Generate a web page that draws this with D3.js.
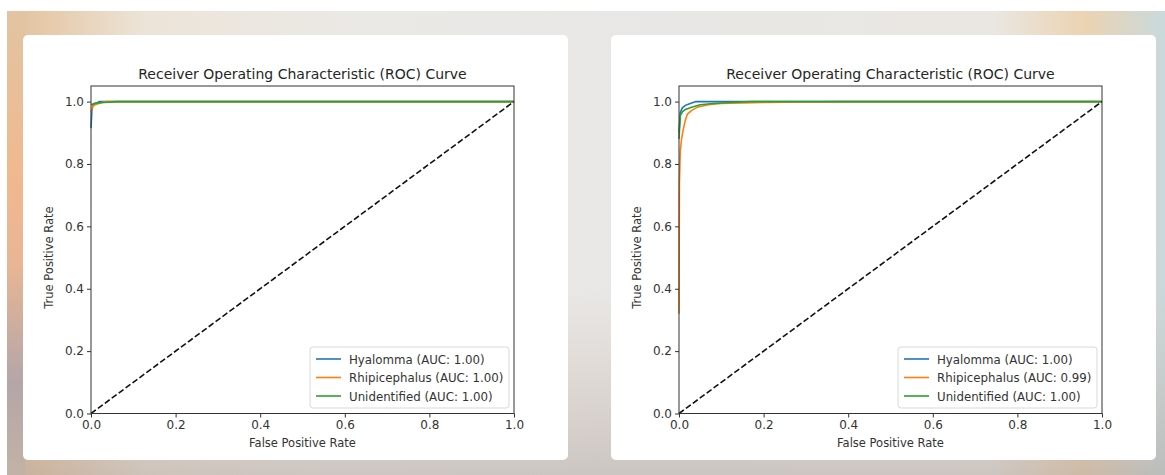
<!DOCTYPE html>
<html>
<head>
<meta charset="utf-8">
<script src="https://cdn.jsdelivr.net/npm/d3@7"></script>
<style>
  html, body { margin: 0; padding: 0; background: #fff; }
  svg { display: block; font-family: "DejaVu Sans", sans-serif; }
</style>
</head>
<body>
<svg id="chart" width="1165" height="475"></svg>
<script>
// series names and AUC labels
const classNames = ["Hyalomma", "Rhipicephalus", "Unidentified"];
const aucLeft = ["1.00", "1.00", "1.00"];
const aucRight = ["1.00", "0.99", "1.00"];
const tickValues = [0, 0.2, 0.4, 0.6, 0.8, 1.0];

// left panel ROC points [fpr, tpr]
const leftHyalomma = [[0, 0.915], [0.002, 0.97], [0.005, 0.99], [0.012, 0.995], [0.02, 1.0], [1, 1]];
const leftRhipicephalus = [[0, 0.965], [0.004, 0.985], [0.01, 0.99], [0.02, 0.995], [0.035, 1.0], [1, 1]];
const leftUnidentified = [[0, 0.99], [0.01, 0.995], [0.03, 0.997], [0.06, 1.0], [1, 1]];

// right panel ROC points [fpr, tpr]
const rightHyalomma = [[0, 0.9], [0.003, 0.965], [0.008, 0.98], [0.015, 0.988], [0.025, 0.993], [0.04, 1.0], [1, 1]];
const rightRhipicephalus = [[0, 0.32], [0.001, 0.74], [0.003, 0.84], [0.006, 0.88], [0.01, 0.91], [0.015, 0.94], [0.02, 0.96], [0.03, 0.972], [0.045, 0.983], [0.07, 0.99], [0.1, 0.994], [0.2, 0.997], [0.38, 1.0], [1, 1]];
const rightUnidentified = [[0, 0.88], [0.003, 0.955], [0.008, 0.967], [0.015, 0.975], [0.03, 0.982], [0.05, 0.99], [0.08, 0.994], [0.12, 0.997], [0.17, 1.0], [1, 1]];

const colors = ["#1f77b4", "#ff7f0e", "#2ca02c"];

const svg = d3.select("#chart");
const defs = svg.append("defs");

// blurry background behind the cards
let bg = defs.append("linearGradient").attr("id", "bg").attr("x1", 0).attr("x2", 1).attr("y1", 0).attr("y2", 0);
[["0%", "#dcc0a0"], ["3%", "#e6c9a8"], ["12%", "#ece4d8"], ["30%", "#ebe9e6"], ["55%", "#e8e7e5"], ["85%", "#eae7e2"], ["93%", "#ecd3b2"], ["100%", "#c9d9dc"]]
  .forEach(s => bg.append("stop").attr("offset", s[0]).attr("stop-color", s[1]));
let bgv = defs.append("linearGradient").attr("id", "bgv").attr("x1", 0).attr("x2", 0).attr("y1", 0).attr("y2", 1);
[["0%", "#ffffff", 0], ["60%", "#c8a898", 0.0], ["100%", "#a89c98", 0.45]]
  .forEach(s => bgv.append("stop").attr("offset", s[0]).attr("stop-color", s[1]).attr("stop-opacity", s[2]));
let edge = defs.append("linearGradient").attr("id", "edge").attr("x1", 0).attr("x2", 0).attr("y1", 0).attr("y2", 1);
[["0%", "#e2c4a2"], ["35%", "#f0b98e"], ["55%", "#e8b595"], ["80%", "#b4a6a8"], ["100%", "#c2b2a6"]]
  .forEach(s => edge.append("stop").attr("offset", s[0]).attr("stop-color", s[1]));

svg.append("rect").attr("x", 7).attr("y", 11).attr("width", 1158).attr("height", 464).attr("fill", "url(#bg)");
svg.append("rect").attr("x", 7).attr("y", 11).attr("width", 1158).attr("height", 464).attr("fill", "url(#bgv)");
svg.append("rect").attr("x", 7).attr("y", 11).attr("width", 18).attr("height", 464).attr("fill", "url(#edge)");

function drawPanel(cardX, plotX, series, aucs) {
  svg.append("rect")
    .attr("x", cardX).attr("y", 35).attr("width", 545).attr("height", 425)
    .attr("rx", 5).attr("fill", "#ffffff");

  const x = d3.scaleLinear().domain([0, 1]).range([plotX, plotX + 423]);
  const y = d3.scaleLinear().domain([0, 1.05]).range([413.5, 86]);

  const g = svg.append("g");

  g.append("text")
    .attr("x", (x(0) + x(1)) / 2).attr("y", 79)
    .attr("text-anchor", "middle").attr("font-size", 14).attr("fill", "#262626")
    .text("Receiver Operating Characteristic (ROC) Curve");

  const line = d3.line().x(d => x(d[0])).y(d => y(d[1]));

  series.forEach((s, i) => {
    g.append("path").datum(s)
      .attr("d", line).attr("fill", "none")
      .attr("stroke", colors[i]).attr("stroke-width", 1.6);
  });

  g.append("path").datum([[0, 0], [1, 1]])
    .attr("d", line).attr("fill", "none")
    .attr("stroke", "#111").attr("stroke-width", 1.6)
    .attr("stroke-dasharray", "6,2.6");

  // axes
  const xAxis = g.append("g").attr("transform", `translate(0,${y(0)})`)
    .call(d3.axisBottom(x).tickValues(tickValues).tickFormat(d3.format(".1f")).tickSize(4).tickPadding(3));
  const yAxis = g.append("g").attr("transform", `translate(${x(0)},0)`)
    .call(d3.axisLeft(y).tickValues(tickValues).tickFormat(d3.format(".1f")).tickSize(4).tickPadding(3));
  [xAxis, yAxis].forEach(a => {
    a.select(".domain").remove();
    a.selectAll("line").attr("stroke", "#333");
    a.selectAll("text").attr("font-size", 12).attr("fill", "#333").attr("font-family", "DejaVu Sans, sans-serif");
  });

  g.append("rect")
    .attr("x", x(0)).attr("y", y(1.05)).attr("width", x(1) - x(0)).attr("height", y(0) - y(1.05))
    .attr("fill", "none").attr("stroke", "#333").attr("stroke-width", 1);

  g.append("text")
    .attr("x", (x(0) + x(1)) / 2).attr("y", 447)
    .attr("text-anchor", "middle").attr("font-size", 11.5).attr("fill", "#333")
    .text("False Positive Rate");
  g.append("text")
    .attr("transform", `translate(${x(0) - 38},${y(0.5)}) rotate(-90)`)
    .attr("text-anchor", "middle").attr("font-size", 11.5).attr("fill", "#333")
    .text("True Positive Rate");

  // legend
  const lw = 199, lx = x(1) - 5 - lw, ly = 347;
  const leg = g.append("g");
  leg.append("rect").attr("x", lx).attr("y", ly).attr("width", lw).attr("height", 61)
    .attr("rx", 3).attr("fill", "#fff").attr("fill-opacity", 0.8).attr("stroke", "#d8d8d8");
  classNames.forEach((name, i) => {
    const yy = ly + 12 + i * 18.5;
    leg.append("line").attr("x1", lx + 6).attr("x2", lx + 31).attr("y1", yy).attr("y2", yy)
      .attr("stroke", colors[i]).attr("stroke-width", 1.6);
    leg.append("text").attr("x", lx + 39).attr("y", yy + 4.5)
      .attr("font-size", 11.8).attr("fill", "#333")
      .text(`${name} (AUC: ${aucs[i]})`);
  });
}

drawPanel(23, 91, [leftHyalomma, leftRhipicephalus, leftUnidentified], aucLeft);
drawPanel(611, 679, [rightHyalomma, rightRhipicephalus, rightUnidentified], aucRight);
</script>
</body>
</html>
